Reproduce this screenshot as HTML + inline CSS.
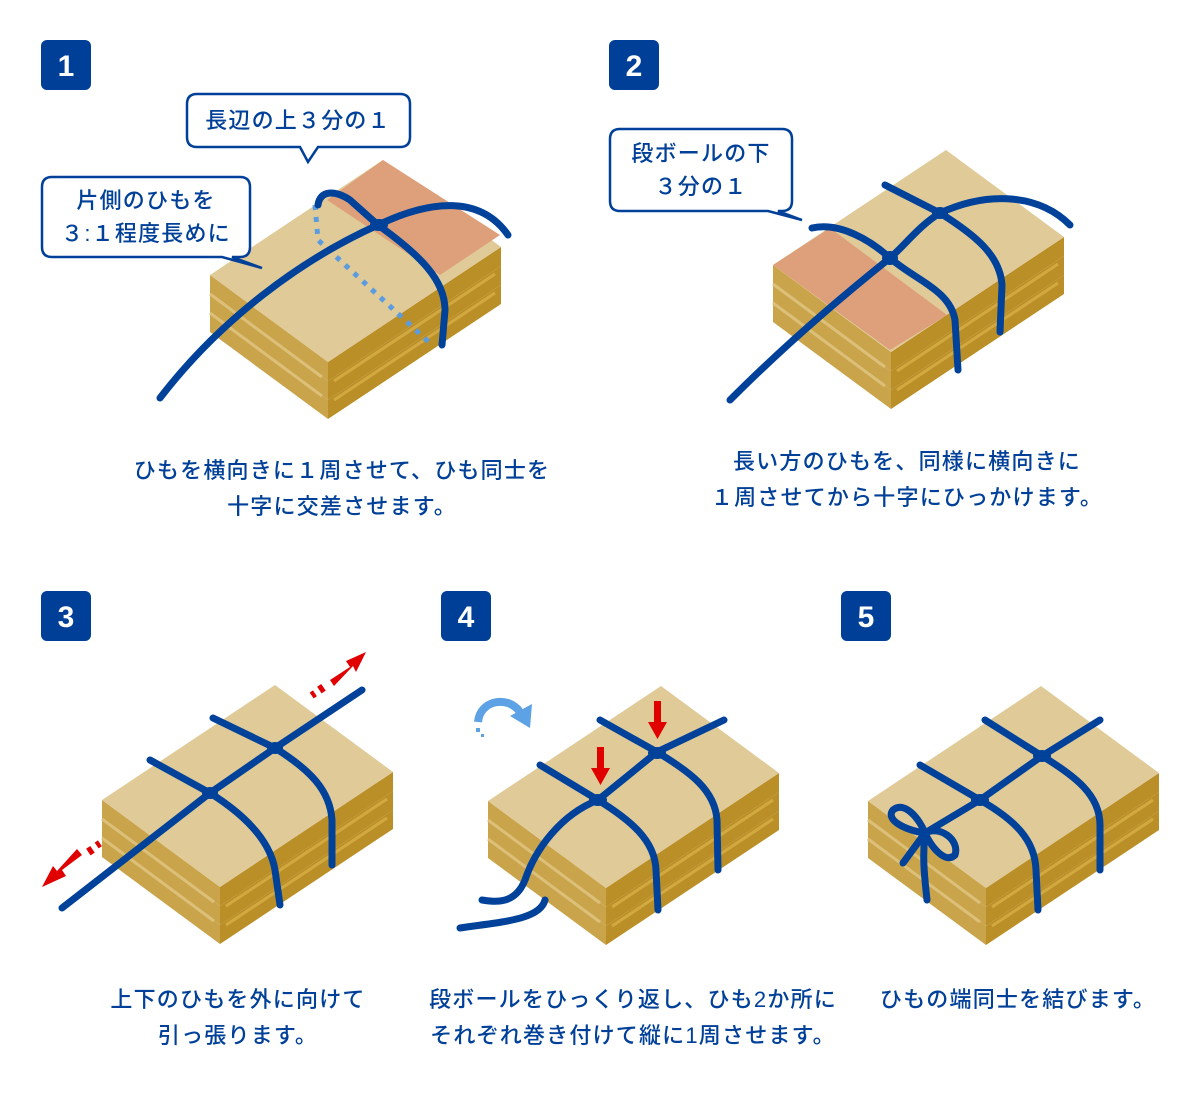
<!DOCTYPE html>
<html><head><meta charset="utf-8"><style>
html,body{margin:0;padding:0;background:#fff;width:1200px;height:1100px;overflow:hidden}
text{font-family:"Liberation Sans","Noto Sans CJK JP",sans-serif;fill:#004098}
.t{font-family:"Noto Sans CJK JP","Liberation Sans",sans-serif;font-weight:500;letter-spacing:1.2px}
</style></head><body>
<svg width="1200" height="1100" viewBox="0 0 1200 1100" xmlns="http://www.w3.org/2000/svg">
<defs>
<g id="box">
  <polygon points="0,153 118,240 118,259 0,172" fill="#c9a44a"/>
  <polygon points="118,240 291,125 291,144 118,259" fill="#bb8f27"/>
  <polygon points="0,134 118,221 118,240 0,153" fill="#c9a44a"/>
  <polygon points="118,221 291,106 291,125 118,240" fill="#bb8f27"/>
  <polygon points="0,115 118,202 118,221 0,134" fill="#c9a44a"/>
  <polygon points="118,202 291,87 291,106 118,221" fill="#bb8f27"/>
  <line x1="0" y1="134" x2="112" y2="217" stroke="#dcc07a" stroke-width="3"/>
  <line x1="0" y1="153" x2="112" y2="236" stroke="#dcc07a" stroke-width="3"/>
  <line x1="124" y1="221" x2="285" y2="114" stroke="#d2a940" stroke-width="3"/>
  <line x1="124" y1="240" x2="285" y2="133" stroke="#d2a940" stroke-width="3"/>
  <polygon points="0,115 173,0 291,87 118,202" fill="#dfca98"/>
</g>
</defs>

<g font-size="30" font-weight="bold">
<rect x="41" y="40" width="50" height="50" rx="6" fill="#003f98"/><text x="66" y="76" text-anchor="middle" style="fill:#fff">1</text>
<rect x="609" y="40" width="50" height="50" rx="6" fill="#003f98"/><text x="634" y="76" text-anchor="middle" style="fill:#fff">2</text>
<rect x="41" y="591" width="50" height="50" rx="6" fill="#003f98"/><text x="66" y="627" text-anchor="middle" style="fill:#fff">3</text>
<rect x="441" y="591" width="50" height="50" rx="6" fill="#003f98"/><text x="466" y="627" text-anchor="middle" style="fill:#fff">4</text>
<rect x="841" y="591" width="50" height="50" rx="6" fill="#003f98"/><text x="866" y="627" text-anchor="middle" style="fill:#fff">5</text>
</g>

<use href="#box" x="210" y="160"/>
<polygon points="383,160 500,235 440,275 327,200" fill="#dda07a"/>
<polyline points="315,205 318,240 432,345" fill="none" stroke="#5b9be0" stroke-width="5" stroke-dasharray="5 7"/>
<g fill="none" stroke="#00419a" stroke-width="7" stroke-linecap="round">
<path d="M160,398 C220,320 300,260 378,225 C430,200 480,195 508,235"/>
<path d="M318,205 C320,190 335,190 350,200 L378,225 C420,255 445,280 445,310 L442,345"/>
</g>
<ellipse cx="379" cy="225" rx="9" ry="6" fill="#00419a"/>

<g fill="#fff" stroke="#004098" stroke-width="2.5">
<path d="M197,94 H400 Q410,94 410,104 V137 Q410,147 400,147 H318 L308,162 L300,147 H197 Q187,147 187,137 V104 Q187,94 197,94 Z"/>
<path d="M52,177 H240 Q250,177 250,187 V247 Q250,257 240,257 H232 L262,268 L222,257 H52 Q42,257 42,247 V187 Q42,177 52,177 Z"/>
<path d="M620,129 H782 Q792,129 792,139 V201 Q792,211 782,211 H778 L802,220 L768,211 H620 Q610,211 610,201 V139 Q610,129 620,129 Z"/>
</g>
<g font-size="22" class="t">
<text x="298" y="128" text-anchor="middle">長辺の上３分の１</text>
<text x="146" y="208" text-anchor="middle">片側のひもを</text>
<text x="146" y="241" text-anchor="middle">３:１程度長めに</text>
<text x="701" y="161" text-anchor="middle">段ボールの下</text>
<text x="701" y="194" text-anchor="middle">３分の１</text>
</g>

<use href="#box" x="773" y="150"/>
<polygon points="773,265 830,228 947,315 890,350" fill="#dda07a"/>
<g fill="none" stroke="#00419a" stroke-width="7" stroke-linecap="round">
<path d="M730,400 C790,340 850,290 890,258 C905,245 920,225 940,213 C990,190 1040,195 1070,225"/>
<path d="M885,185 L940,213 C975,235 1000,255 1002,285 L1000,332"/>
<path d="M812,228 C840,222 870,240 890,258 C915,280 950,290 955,320 L958,370"/>
</g>
<ellipse cx="890" cy="258" rx="8" ry="7" fill="#00419a"/>
<ellipse cx="940" cy="213" rx="8" ry="6" fill="#00419a"/>

<use href="#box" x="102" y="685"/>
<g fill="none" stroke="#00419a" stroke-width="7" stroke-linecap="round">
<path d="M62,908 L210,793 L275,748 L362,690"/>
<path d="M213,718 L275,748 C310,770 330,790 332,820 L332,865"/>
<path d="M150,760 L210,793 C245,815 270,840 275,870 L280,905"/>
</g>
<ellipse cx="210" cy="793" rx="8" ry="6" fill="#00419a"/>
<ellipse cx="275" cy="748" rx="8" ry="6" fill="#00419a"/>
<g fill="#e00000">
<polygon points="330,680 350,667 346,661 366,652 356,672 353,666 334,686"/>
<rect x="319" y="685" width="5" height="8" transform="rotate(-34 321 689)"/>
<rect x="311" y="691" width="4" height="7" transform="rotate(-34 313 694)"/>
<polygon points="82,855 62,870 66,876 42,887 53,866 57,871 77,849"/>
<rect x="88" y="847" width="5" height="8" transform="rotate(-34 90 851)"/>
<rect x="96" y="841" width="4" height="7" transform="rotate(-34 98 844)"/>
</g>

<use href="#box" x="488" y="686"/>
<g fill="none" stroke="#00419a" stroke-width="7" stroke-linecap="round">
<path d="M540,765 L598,800 C630,820 655,840 656,870 L658,910"/>
<path d="M600,720 L657,752 C690,772 715,790 717,820 L718,870"/>
<path d="M724,720 L657,752 L598,800 C560,815 535,850 525,880 C515,905 495,902 482,900"/>
<path d="M460,928 C500,922 540,920 545,900"/>
</g>
<ellipse cx="598" cy="800" rx="9" ry="6" fill="#00419a"/>
<ellipse cx="657" cy="753" rx="9" ry="6" fill="#00419a"/>
<g fill="#e00000">
<rect x="597" y="747" width="7" height="22"/><polygon points="591,768 610,768 600.5,785"/>
<rect x="654" y="701" width="7" height="22"/><polygon points="648,722 667,722 657.5,739"/>
</g>
<path d="M478,722 C480,700 508,695 520,712" fill="none" stroke="#5ea2e6" stroke-width="8"/>
<polygon points="510,716 532,704 530,728" fill="#5ea2e6"/>
<rect x="476" y="728" width="4" height="4" fill="#5ea2e6"/><rect x="481" y="734" width="3" height="3" fill="#5ea2e6"/>

<use href="#box" x="868" y="686"/>
<g fill="none" stroke="#00419a" stroke-width="7" stroke-linecap="round">
<path d="M920,765 L980,800 C1015,820 1035,840 1036,870 L1038,910"/>
<path d="M985,720 L1042,756 C1075,776 1100,795 1100,825 L1100,870"/>
<path d="M1100,720 L1042,756 L980,800 L925,833"/>
<path d="M925,833 C905,830 885,820 893,810 C905,800 920,820 925,833 C940,825 960,840 955,855 C945,865 930,845 925,833"/>
<path d="M925,833 L903,863"/>
<path d="M925,833 C922,860 925,880 927,900"/>
</g>
<ellipse cx="980" cy="800" rx="9" ry="6" fill="#00419a"/>
<ellipse cx="1042" cy="756" rx="9" ry="6" fill="#00419a"/>

<g font-size="22" text-anchor="middle" class="t">
<text x="342" y="478">ひもを横向きに１周させて、ひも同士を</text>
<text x="342" y="514">十字に交差させます。</text>
<text x="907" y="469">長い方のひもを、同様に横向きに</text>
<text x="907" y="505">１周させてから十字にひっかけます。</text>
<text x="238" y="1007">上下のひもを外に向けて</text>
<text x="238" y="1043">引っ張ります。</text>
<text x="633" y="1007">段ボールをひっくり返し、ひも2か所に</text>
<text x="633" y="1043">それぞれ巻き付けて縦に1周させます。</text>
<text x="1018" y="1007">ひもの端同士を結びます。</text>
</g>
</svg>
</body></html>
